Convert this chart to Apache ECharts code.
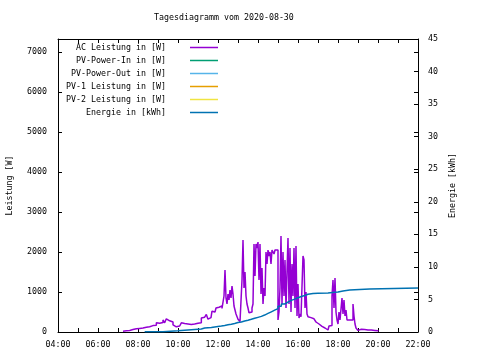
<!DOCTYPE html>
<html>
<head>
<meta charset="utf-8">
<script src="https://cdn.jsdelivr.net/npm/echarts@6/dist/echarts.min.js"></script>
<style>html,body{margin:0;padding:0;background:#fff}#c{width:480px;height:360px}</style>
</head>
<body>
<div id="c"></div>
<script>
const titleText = 'Tagesdiagramm vom 2020-08-30';
const seriesNames = ['AC Leistung in [W]', 'PV-Power-In in [W]', 'PV-Power-Out in [W]', 'PV-1 Leistung in [W]', 'PV-2 Leistung in [W]', 'Energie in [kWh]'];
const seriesColors = ['#9400d3', '#009e73', '#56b4e9', '#e69f00', '#f0e442', '#0072b2'];
const xTickLabels = ['04:00', '06:00', '08:00', '10:00', '12:00', '14:00', '16:00', '18:00', '20:00', '22:00'];

const acTimes = [
 '07:15','07:20','07:25','07:30','07:35','07:40','07:45','07:50','07:55','08:00','08:05','08:10','08:15','08:20','08:25','08:30','08:35','08:40','08:45','08:50','08:55',
 '09:00','09:05','09:10','09:15','09:20','09:25','09:30','09:35','09:40','09:45','09:50','09:55','10:00','10:05','10:10','10:15','10:20','10:25','10:30','10:35','10:40','10:45','10:50','10:55',
 '11:00','11:05','11:10','11:15','11:20','11:25',
 '11:30','11:33','11:36','11:39','11:42','11:45','11:48','11:51','11:54','11:57',
 '12:00','12:03','12:06','12:09','12:12','12:15','12:18','12:21','12:24','12:27','12:30','12:33','12:36','12:39','12:42','12:45','12:48','12:51','12:54','12:57',
 '13:00','13:03','13:06','13:09','13:12','13:15','13:18','13:21','13:24','13:27','13:30','13:33','13:36','13:39','13:42','13:45','13:48','13:51','13:54','13:57',
 '14:00','14:03','14:06','14:09','14:12','14:15','14:18','14:21','14:24','14:27','14:30','14:33','14:36','14:39','14:42','14:45','14:48','14:51','14:54','14:57',
 '15:00','15:03','15:06','15:09','15:12','15:15','15:18','15:21','15:24','15:27','15:30','15:33','15:36','15:39','15:42','15:45','15:48','15:51','15:54','15:57',
 '16:00','16:03','16:06','16:09','16:12','16:15','16:18','16:21','16:24','16:27','16:30','16:33','16:36','16:39','16:42','16:45','16:48','16:51','16:54','16:57',
 '17:00','17:03','17:06','17:09','17:12','17:15','17:18','17:21','17:24','17:27','17:30','17:33','17:36','17:39','17:42','17:45','17:48','17:51','17:54','17:57',
 '18:00','18:03','18:06','18:09','18:12','18:15','18:18','18:21','18:24','18:27','18:30','18:33','18:36','18:39','18:42','18:45','18:48','18:51','18:54','18:57',
 '19:00','19:05','19:10','19:15','19:20','19:25','19:30','19:35','19:40','19:45','19:50','19:55','20:00'
];
const acValues = [
 20,30,60,40,70,60,90,80,110,90,130,100,140,120,150,130,170,160,150,170,230,
 220,260,240,300,230,330,280,300,250,180,130,170,150,190,230,210,240,200,220,190,230,200,180,220,
 250,230,350,370,420,440,
 320,340,360,340,520,550,500,520,600,560,
 620,580,600,650,590,620,900,1550,850,700,950,800,1050,850,1150,950,650,550,450,400,
 320,280,260,300,1300,2300,1100,1500,900,700,600,480,520,500,600,700,2200,1400,2200,2100,
 2250,1300,2200,950,1600,700,1100,900,2000,1700,2050,1900,2000,1700,2050,2000,1950,2050,2000,2050,
 300,500,1100,2400,700,2000,900,1800,600,1500,2350,700,2100,500,1700,900,2100,600,2150,400,
 1200,350,450,380,400,1900,1800,600,1000,450,380,350,360,340,320,330,300,280,250,240,
 200,180,150,140,120,90,100,60,80,50,100,150,170,160,900,1300,600,1350,500,300,
 200,500,300,350,850,450,800,400,550,300,250,300,250,350,300,700,400,200,100,60,
 40,70,30,60,40,50,20,50,30,40,20,30,10
];
const pvInValues = [];
const pvOutValues = [];
const pv1Values = [];
const pv2Values = [];

const energyTimes = ['08:20','09:15','10:00','10:40','11:10','11:20','11:30','11:40','11:50','12:00','12:10','12:20','12:30','12:40','12:50',
 '13:00','13:10','13:20','13:30','13:40','13:50','14:00','14:10','14:20','14:30','14:40','14:50','15:00','15:10','15:20','15:30','15:40','15:50',
 '16:00','16:10','16:20','16:30','16:45','17:00','17:30','17:50','18:00','18:15','18:35','19:35','22:00'];
const energyValues = [0.05,0.2,0.35,0.45,0.6,0.65,0.7,0.78,0.85,0.92,1.0,1.1,1.2,1.32,1.45,
 1.55,1.7,1.82,1.95,2.1,2.25,2.4,2.6,2.85,3.1,3.35,3.6,3.95,4.3,4.6,4.85,5.05,5.25,
 5.45,5.6,5.8,5.9,5.95,6.0,6.1,6.15,6.3,6.45,6.6,6.75,6.75];

function toHours(s) { const p = s.split(':'); return +p[0] + (+p[1]) / 60; }
function pairs(times, vals) { return times.map((t, i) => [toHours(t), vals[i]]); }

const FONT = 'DejaVu Sans Mono';
const FS = 8.3;
const txt = { fontFamily: FONT, fontSize: FS, color: '#000' };

const chart = echarts.init(document.getElementById('c'), null, { renderer: 'canvas' });

const legends = seriesNames.map((n, i) => ({
  data: [n], orient: 'vertical', right: 262, top: 43.5 + 13 * i, align: 'right',
  icon: 'rect', itemWidth: 28, itemHeight: 1.5, padding: 0, selectedMode: false,
  textStyle: Object.assign({}, txt, { padding: [0, 19, 0, 0] })
}));

const xCommon = {
  type: 'value', min: 4, max: 22, interval: 1,
  axisLine: { onZero: false, lineStyle: { color: '#000', width: 1 } },
  axisTick: { inside: true, length: 4, lineStyle: { color: '#000' } },
  splitLine: { show: false }
};

chart.setOption({
  animation: false,
  backgroundColor: '#fff',
  title: { text: titleText, left: 154, top: 14, padding: 0, textStyle: Object.assign({}, txt, { fontWeight: 'normal' }) },
  legend: legends,
  grid: { left: 58, right: 62, top: 39, bottom: 28, containLabel: false, outerBoundsMode: 'none' },
  xAxis: [
    Object.assign({}, xCommon, { position: 'bottom',
      axisLabel: Object.assign({}, txt, { margin: 9, formatter: v => (v % 2 === 0 ? xTickLabels[(v - 4) / 2] : '') }) }),
    Object.assign({}, xCommon, { position: 'top', axisLabel: { show: false } })
  ],
  yAxis: [
    { type: 'value', position: 'left', min: 0, max: 7325, interval: 1000,
      name: 'Leistung [W]', nameLocation: 'middle', nameGap: 44, nameRotate: 90, nameTextStyle: txt,
      axisLine: { show: true, lineStyle: { color: '#000' } },
      axisTick: { inside: true, length: 4, lineStyle: { color: '#000' } },
      axisLabel: Object.assign({}, txt, { margin: 11, showMaxLabel: false, formatter: v => String(v) }),
      splitLine: { show: false } },
    { type: 'value', position: 'right', min: 0, max: 45, interval: 5,
      name: 'Energie [kWh]', nameLocation: 'middle', nameGap: 30, nameRotate: 90, nameTextStyle: txt,
      axisLine: { show: true, lineStyle: { color: '#000' } },
      axisTick: { inside: true, length: 4, lineStyle: { color: '#000' } },
      axisLabel: Object.assign({}, txt, { margin: 10, formatter: v => String(v) }),
      splitLine: { show: false } },
    { type: 'value', position: 'right', min: 0, max: 7325, interval: 1000,
      axisLine: { show: false },
      axisTick: { inside: true, length: 4, lineStyle: { color: '#000' } },
      axisLabel: { show: false }, splitLine: { show: false } }
  ],
  series: [
    { name: seriesNames[0], type: 'line', step: 'end', showSymbol: false, yAxisIndex: 0,
      data: pairs(acTimes, acValues), lineStyle: { color: seriesColors[0], width: 1.5 }, itemStyle: { color: seriesColors[0] } },
    { name: seriesNames[1], type: 'line', showSymbol: false, yAxisIndex: 0, data: pvInValues,
      lineStyle: { color: seriesColors[1] }, itemStyle: { color: seriesColors[1] } },
    { name: seriesNames[2], type: 'line', showSymbol: false, yAxisIndex: 0, data: pvOutValues,
      lineStyle: { color: seriesColors[2] }, itemStyle: { color: seriesColors[2] } },
    { name: seriesNames[3], type: 'line', showSymbol: false, yAxisIndex: 0, data: pv1Values,
      lineStyle: { color: seriesColors[3] }, itemStyle: { color: seriesColors[3] } },
    { name: seriesNames[4], type: 'line', showSymbol: false, yAxisIndex: 0, data: pv2Values,
      lineStyle: { color: seriesColors[4] }, itemStyle: { color: seriesColors[4] } },
    { name: seriesNames[5], type: 'line', step: 'end', showSymbol: false, yAxisIndex: 1,
      data: pairs(energyTimes, energyValues), lineStyle: { color: seriesColors[5], width: 1.5 }, itemStyle: { color: seriesColors[5] } }
  ]
});
</script>
</body>
</html>
